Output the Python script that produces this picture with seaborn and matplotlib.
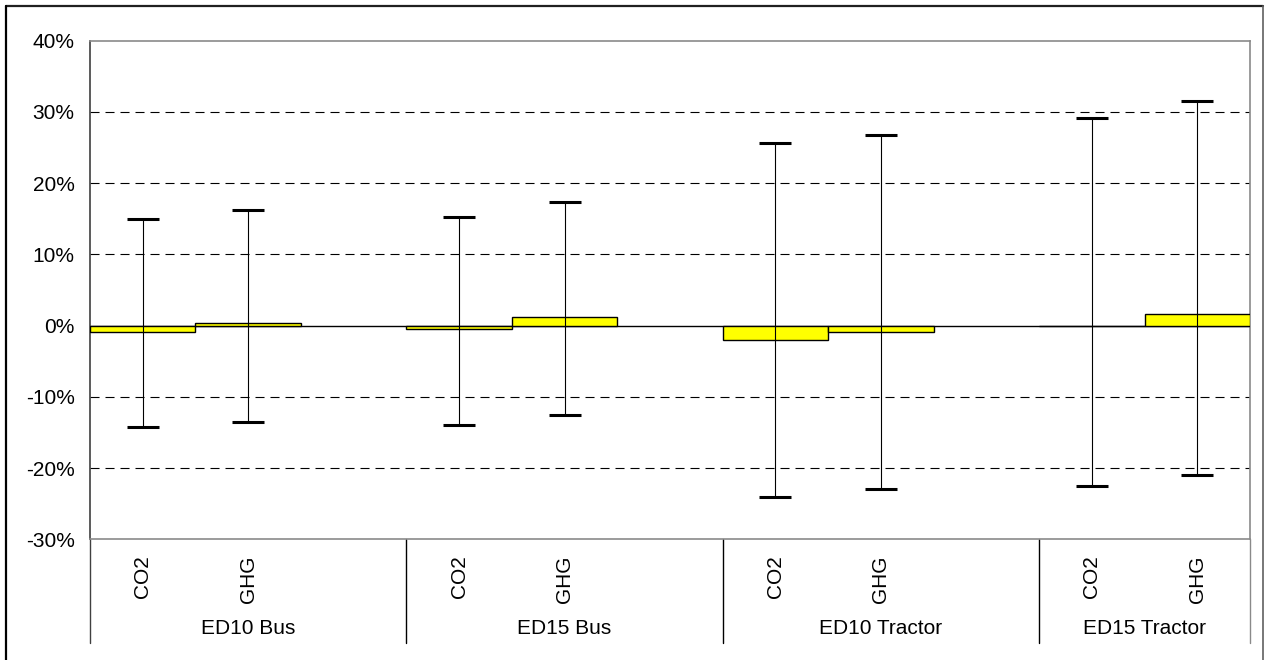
import numpy as np
import pandas as pd
import matplotlib
matplotlib.use("Agg")
import matplotlib.pyplot as plt
from matplotlib.lines import Line2D
import matplotlib.transforms as mtransforms
import seaborn as sns

# ---- data -------------------------------------------------------------
groups = ["ED10 Bus", "ED15 Bus", "ED10 Tractor", "ED15 Tractor"]
gases = ["CO2", "GHG"]
# bar values (%), in group order, CO2 then GHG
values = [-0.9, 0.4, -0.5, 1.2, -2.0, -0.9, 0.0, 1.6]
# error-bar end points (%)
err_high = [15.0, 16.3, 15.2, 17.3, 25.6, 26.8, 29.1, 31.6]
err_low = [-14.3, -13.5, -13.9, -12.6, -24.0, -23.0, -22.5, -21.0]
y_ticks = [-30, -20, -10, 0, 10, 20, 30, 40]

# ---- table ------------------------------------------------------------
rows = []
order = []
for gi, g in enumerate(groups):
    for gs in gases:
        key = f"{g} | {gs}"
        order.append(key)
        rows.append({"slot": key, "group": g, "gas": gs})
    if gi < len(groups) - 1:
        order.append(f"gap{gi}")
df = pd.DataFrame(rows)
df["value"] = values
df["high"] = err_high
df["low"] = err_low
df["pos"] = [order.index(k) for k in df["slot"]]

# ---- style ------------------------------------------------------------
sns.set_theme(style="white")
plt.rcParams["font.family"] = ["Liberation Sans", "DejaVu Sans"]
plt.rcParams["lines.scale_dashes"] = False

FS = 15
DPI = 100
fig = plt.figure(figsize=(12.65, 6.6), dpi=DPI)
W, H = 1265, 660
ax = fig.add_axes([90 / W, 1 - 539.3 / H, (1250 - 90) / W, (539.3 - 40.7) / H])

sns.barplot(data=df, x="slot", y="value", order=order, width=1.0,
            color="#FFFF00", saturation=1, edgecolor="black", linewidth=1.0,
            ax=ax, zorder=3)

# error bars
ax.errorbar(df["pos"], df["value"],
            yerr=[df["value"] - df["low"], df["high"] - df["value"]],
            fmt="none", ecolor="black", elinewidth=0.8,
            capsize=11.5, capthick=2.2, zorder=4)

# axes range / grid
ax.set_xlim(-0.5, len(order) - 0.5)
ax.set_ylim(-30, 40)
ax.set_yticks(y_ticks)
ax.set_yticklabels([f"{t}%" for t in y_ticks], fontsize=FS, color="black")
ax.tick_params(axis="y", length=0, pad=11.0)
ax.set_xticks([])
ax.set_xlabel("")
ax.set_ylabel("")
for t in y_ticks:
    if t in (-30, 40):
        continue
    if t == 0:
        ax.axhline(0, color="black", lw=1.0, zorder=2)
    else:
        ax.axhline(t, color="black", lw=0.8, linestyle=(0, (6.5, 4.3)), zorder=1)

for side in ["top", "right", "bottom"]:
    ax.spines[side].set_color("#8a8a8a")
    ax.spines[side].set_linewidth(1.2)
ax.spines["left"].set_color("#404040")
ax.spines["left"].set_linewidth(1.2)

# category labels (two levels)
px = 72.0 / DPI
for _, r in df.iterrows():
    ax.annotate(r["gas"], xy=(r["pos"], 0), xycoords=("data", "axes fraction"),
                xytext=(0, -16 * px), textcoords="offset points",
                rotation=90, ha="center", va="top", fontsize=FS, color="black")

bounds = [-0.5]
for gi, g in enumerate(groups):
    p = df.loc[df["group"] == g, "pos"]
    right = p.max() + (1.5 if gi < len(groups) - 1 else 0.5)
    left = bounds[-1]
    ax.annotate(g, xy=((left + right) / 2, 0), xycoords=("data", "axes fraction"),
                xytext=(0, -89 * px), textcoords="offset points",
                ha="center", va="center", fontsize=FS, color="black")
    bounds.append(right)

tr = mtransforms.blended_transform_factory(ax.transData, ax.transAxes)
y_div = -(642.7 - 539.3) / (539.3 - 40.7)
for i, b in enumerate(bounds):
    col = "#404040" if i == 0 else ("#8a8a8a" if i == len(bounds) - 1 else "black")
    ax.add_line(Line2D([b, b], [0, y_div], transform=tr, color=col,
                       lw=1.0, clip_on=False))

# outer frame
def fig_line(x0, y0, x1, y1, color, lw):
    fig.add_artist(Line2D([x0 / W, x1 / W], [1 - y0 / H, 1 - y1 / H],
                          transform=fig.transFigure, color=color, lw=lw))

fig_line(6, 6, 1263, 6, "#202020", 1.6)
fig_line(6, 6, 6, 660, "black", 1.6)
fig_line(1263, 6, 1263, 660, "#606060", 1.2)

fig.savefig("out.png", dpi=DPI, facecolor="white")
